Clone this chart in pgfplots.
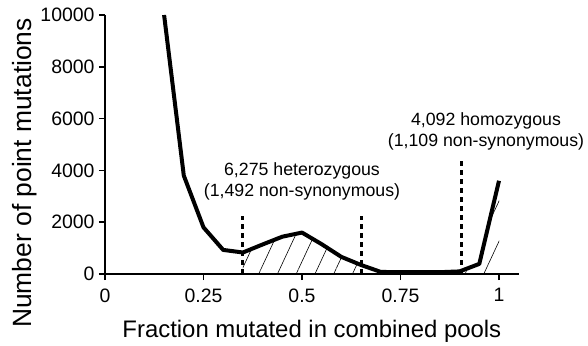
\documentclass[border=0pt]{standalone}
\usepackage{pgfplots}
\pgfplotsset{compat=1.18}
\usepackage{fontspec}
\setmainfont{Liberation Sans}
\usetikzlibrary{patterns.meta}
\begin{document}
\begin{tikzpicture}
\begin{axis}[
  at={(0,0)}, anchor=origin,
  scale only axis,
  width=413.7bp, height=259bp,
  xmin=0, xmax=1.05, ymin=0, ymax=10000,
  axis x line=bottom, axis y line=left,
  axis line style={-, line width=1.6bp},
  every tick/.style={black, line width=1.6bp},
  tick align=outside, major tick length=6bp,
  scaled ticks=false,
  /pgf/number format/assume math mode=true,
  /pgf/number format/1000 sep={},
  xtick={0,0.25,0.5,0.75,1},
  ytick={0,2000,4000,6000,8000,10000},
  ticklabel style={font=\fontsize{19.5}{22}\selectfont},
  xticklabel style={yshift=-5bp},
  yticklabel style={xshift=-1bp},
  xlabel={Fraction mutated in combined pools},
  ylabel={Number of point mutations},
  xlabel style={font=\fontsize{24}{28}\selectfont, at={(axis description cs:0.5,-0.247)}, anchor=base},
  ylabel style={font=\fontsize{26.5}{30}\selectfont, at={(axis description cs:-0.193,0.39)}, anchor=center},
  clip=false,
]
% hatched areas
\addplot[draw=none, pattern={Lines[angle=65,distance=17bp,line width=0.6bp]}]
  coordinates {(0.35,830)(0.4,1140)(0.45,1440)(0.5,1600)(0.55,1150)(0.6,660)(0.65,347)} \closedcycle;
\addplot[draw=none, pattern={Lines[angle=65,distance=17bp,line width=0.6bp]}]
  coordinates {(0.9,100)(0.95,390)(1.0,3600)} \closedcycle;
% dashed markers
\addplot[black, line width=3bp, dash pattern=on 5bp off 4bp] coordinates {(0.35,0)(0.35,2240)};
\addplot[black, line width=3bp, dash pattern=on 5bp off 4bp] coordinates {(0.65,0)(0.65,2240)};
\addplot[black, line width=3bp, dash pattern=on 5bp off 4bp] coordinates {(0.905,0)(0.905,4360)};
% main curve
\addplot[black, line width=4bp, line join=round] coordinates {
(0.15,10000)(0.2,3800)(0.25,1800)(0.3,930)(0.35,830)(0.4,1140)(0.45,1440)(0.5,1600)
(0.55,1150)(0.6,660)(0.65,347)(0.7,80)(0.75,70)(0.8,70)(0.85,70)(0.9,100)(0.95,390)(1.0,3600)};
\node[align=center, font=\fontsize{17.8}{21}\selectfont] at (axis cs:0.5,3580) {6,275 heterozygous\\(1,492 non-synonymous)};
\node[align=center, font=\fontsize{17.8}{21}\selectfont] at (axis cs:0.967,5490) {4,092 homozygous\\(1,109 non-synonymous)};
\end{axis}
\pgfresetboundingbox
\path (-105bp,-72bp) rectangle (483bp,274bp);
\end{tikzpicture}
\end{document}
